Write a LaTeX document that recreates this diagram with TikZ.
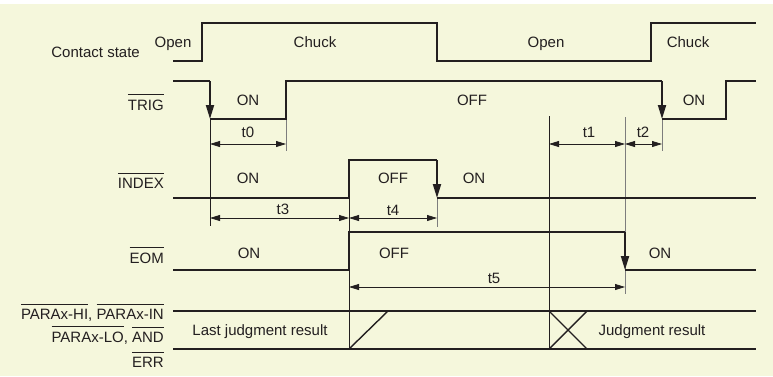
\documentclass[tikz,border=0pt]{standalone}
\usepackage{fontspec}
\setmainfont{Liberation Sans}
\usetikzlibrary{arrows.meta,positioning}
\definecolor{bgpaper}{RGB}{245,247,220}
\definecolor{ink}{RGB}{35,31,32}
\definecolor{guide}{RGB}{125,125,125}
\newcommand{\sig}[1]{\leavevmode\vbox{\hrule height 0.9pt\kern 4.2pt\hbox{#1}}}

\begin{document}
\begin{tikzpicture}[x=1pt,y=-1pt,
  wave/.style={ink,line width=1.9pt,line join=miter},
  fall/.style={ink,line width=1.9pt,-{Triangle[length=14pt,width=8pt]}},
  dim/.style={ink,line width=0.8pt,{Triangle[length=10pt,width=6pt]}-{Triangle[length=10pt,width=6pt]}},
  ext/.style={guide,line width=0.9pt},
  cut/.style={ink,line width=0.9pt},
  lbl/.style={ink,inner sep=0pt,anchor=base,font=\fontsize{15}{17}\selectfont},
  siglbl/.style={lbl,anchor=base east}]
  \useasboundingbox (0,0) rectangle (773,376);
  \fill[white] (0,0) rectangle (773,376);
  \fill[bgpaper] (0,4) rectangle (773,376);

  % signal names
  \node[siglbl] (cs) at (140,57) {Contact state};
  \node[siglbl] (trig) at (164,110) {\sig{TRIG}};
  \node[siglbl] (index) at (164,188) {\sig{INDEX}};
  \node[siglbl] (eom) at (164,263) {\sig{EOM}};
  \node[siglbl] (parahi) at (164,319) {\sig{PARAx-HI}, \sig{PARAx-IN}};
  \node[siglbl] (paralo) at (164,342) {\sig{PARAx-LO}, \sig{AND}};
  \node[siglbl] (err) at (164,367) {\sig{ERR}};

  % guide lines
  \draw[cut] (210,119) -- (210,226);
  \draw[cut] (349,198) -- (349,349);
  \draw[cut] (549,116) -- (549,349);
  \draw[ext] (625,117) -- (625,294);
  \draw[ext] (286,119) -- (286,151);
  \draw[ext] (662,119) -- (662,151);
  \draw[ext] (437,198) -- (437,227);

  % contact state
  \draw[wave] (173,61) -- (202,61) -- (202,23) -- (437,23) -- (437,61)
    -- (651,61) -- (651,23) -- (756,23);
  \node[lbl] (open1) at (173,47) {Open};
  \node[lbl] (chuck1) at (315,47) {Chuck};
  \node[lbl] (open2) at (546,47) {Open};
  \node[lbl] (chuck2) at (688,47) {Chuck};

  % TRIG
  \draw[wave] (173,81) -- (210,81);
  \draw[fall] (210,81) -- (210,119);
  \draw[wave] (210,119) -- (286,119) -- (286,81) -- (662,81);
  \draw[fall] (662,81) -- (662,119);
  \draw[wave] (662,119) -- (726,119) -- (726,81) -- (756,81);
  \node[lbl] (trigon1) at (248,105) {ON};
  \node[lbl] (trigoff) at (472,105) {OFF};
  \node[lbl] (trigon2) at (694,105) {ON};

  % INDEX
  \draw[wave] (173,198) -- (349,198) -- (349,160) -- (437,160);
  \draw[fall] (437,160) -- (437,198);
  \draw[wave] (437,198) -- (756,198);
  \node[lbl] (indexon1) at (248,183) {ON};
  \node[lbl] (indexoff) at (393,183) {OFF};
  \node[lbl] (indexon2) at (474,183) {ON};

  % EOM
  \draw[wave] (173,270) -- (349,270) -- (349,232) -- (625,232);
  \draw[fall] (625,232) -- (625,270);
  \draw[wave] (625,270) -- (756,270);
  \node[lbl] (eomon1) at (249,258) {ON};
  \node[lbl] (eomoff) at (394,258) {OFF};
  \node[lbl] (eomon2) at (660,258) {ON};

  % judgment
  \draw[wave] (173,311) -- (756,311);
  \draw[wave] (173,349) -- (756,349);
  \draw[cut,line width=1.4pt] (349,349) -- (388,311);
  \draw[cut,line width=1.4pt] (549,311) -- (587,349) (549,349) -- (587,311);
  \node[lbl] (lastres) at (260,335) {Last judgment result};
  \node[lbl] (res) at (652,335) {Judgment result};

  % times
  \draw[dim] (210,144) -- (286,144);
  \draw[dim] (549,144) -- (625,144);
  \draw[dim] (625,144) -- (662,144);
  \draw[dim] (210,218) -- (349,218);
  \draw[dim] (349,218) -- (437,218);
  \draw[dim] (349,287) -- (625,287);
  \node[lbl] (t0) at (248,137) {t0};
  \node[lbl] (t1) at (589,137) {t1};
  \node[lbl] (t2) at (643,137) {t2};
  \node[lbl] (t3) at (283,214) {t3};
  \node[lbl] (t4) at (393,215) {t4};
  \node[lbl] (t5) at (494,283) {t5};
\end{tikzpicture}
\end{document}
